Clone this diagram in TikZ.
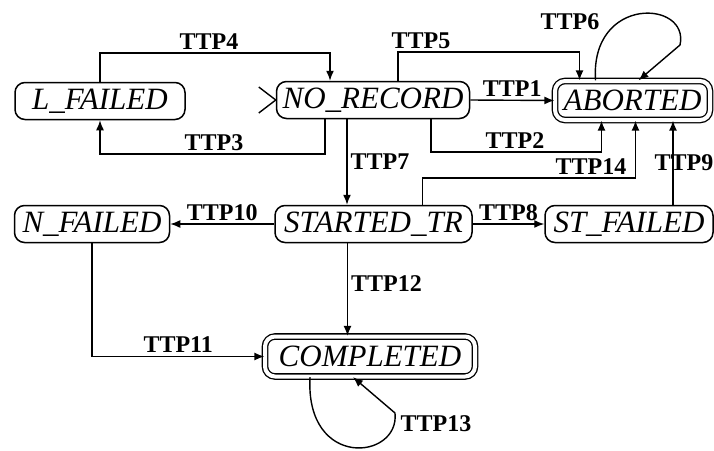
\documentclass[tikz,border=0pt]{standalone}
\usepackage{fontspec}
\setmainfont{Liberation Serif}
\usetikzlibrary{positioning,arrows.meta}
\tikzset{
  state/.style={draw, rounded corners=10pt, line width=1.5pt, minimum height=37pt, inner xsep=3pt, inner ysep=0pt, font=\fontsize{31}{36}\selectfont\itshape},
  final/.style={double, double distance=4pt, line width=1.3pt},
  trans/.style={-{Latex[length=10pt,width=8pt]}, line width=1.4pt},
  ttp/.style={font=\fontsize{24}{28}\selectfont\bfseries, inner sep=3pt},
}
\begin{document}
\begin{tikzpicture}[x=1pt, y=-1pt]
  \useasboundingbox (0,0) rectangle (714,450);

  \node[state, minimum width=170pt] (lfail) at (100,101) {L\_FAILED};
  \node[state, minimum width=193pt] (norec) at (373,100) {NO\_RECORD};
  \node[state, final, minimum width=155pt, minimum height=39pt] (abort) at (632.5,100.5) {ABORTED};
  \node[state, minimum width=155pt] (nfail) at (92,224) {N\_FAILED};
  \node[state, minimum width=197pt] (start) at (373.5,224) {STARTED\_TR};
  \node[state, minimum width=168pt] (stfail) at (629,224) {ST\_FAILED};
  \node[state, final, minimum width=210pt, minimum height=40pt] (compl) at (370,356.5) {COMPLETED};

  % initial state marker
  \draw[line width=1.4pt] ([shift={(-17pt,13pt)}]norec.west) -- (norec.west) -- ([shift={(-17pt,-13pt)}]norec.west);

  \draw[trans] (norec.east) -- (abort.west) node[ttp, midway, above] {TTP1};
  \draw[trans] ([xshift=58pt]norec.south) |- (515,152) node[ttp, above] {TTP2} -| ([xshift=-31pt]abort.south);
  \draw[trans] ([xshift=-48pt]norec.south) |- (214,154) node[ttp, above] {TTP3} -| (lfail.south);
  \draw[trans] (lfail.north) |- (209,53) node[ttp, above] {TTP4} -| ([xshift=-43pt]norec.north);
  \draw[trans] ([xshift=25pt]norec.north) |- (421,52) node[ttp, above] {TTP5} -| ([xshift=-53pt]abort.north);
  \draw[trans] ([xshift=-37pt]abort.north) .. controls (590,-5) and (690,0) .. (680,45) -- ([xshift=6pt]abort.north)
    node[ttp] at (570,22) {TTP6};
  \draw[trans] ([xshift=-26pt]norec.south) -- ([xshift=-26pt]norec.south |- start.north) node[ttp, midway, right] {TTP7};
  \draw[trans] (start.east) -- (stfail.west) node[ttp, midway, above] {TTP8};
  \draw[trans] ([xshift=44pt]stfail.north) -- ([xshift=44pt]stfail.north |- abort.south) node[ttp, midway, xshift=11pt] {TTP9};
  \draw[trans] (start.west) -- (nfail.east) node[ttp, midway, above] {TTP10};
  \draw[trans] (nfail.south) |- (compl.west) node[ttp, pos=0.75, above] {TTP11};
  \draw[trans] ([xshift=-26pt]start.south) -- ([xshift=-26pt]start.south |- compl.north) node[ttp, pos=0.44, right] {TTP12};
  \draw[trans] ([xshift=-60pt]compl.south) .. controls (305,470) and (400,460) .. (395,413) -- ([xshift=-17pt]compl.south)
    node[ttp] at (436,424) {TTP13};
  \draw[trans] ([xshift=49pt]start.north) |- (591,178) node[ttp, above] {TTP14} -| ([xshift=3pt]abort.south);

\end{tikzpicture}
\end{document}
